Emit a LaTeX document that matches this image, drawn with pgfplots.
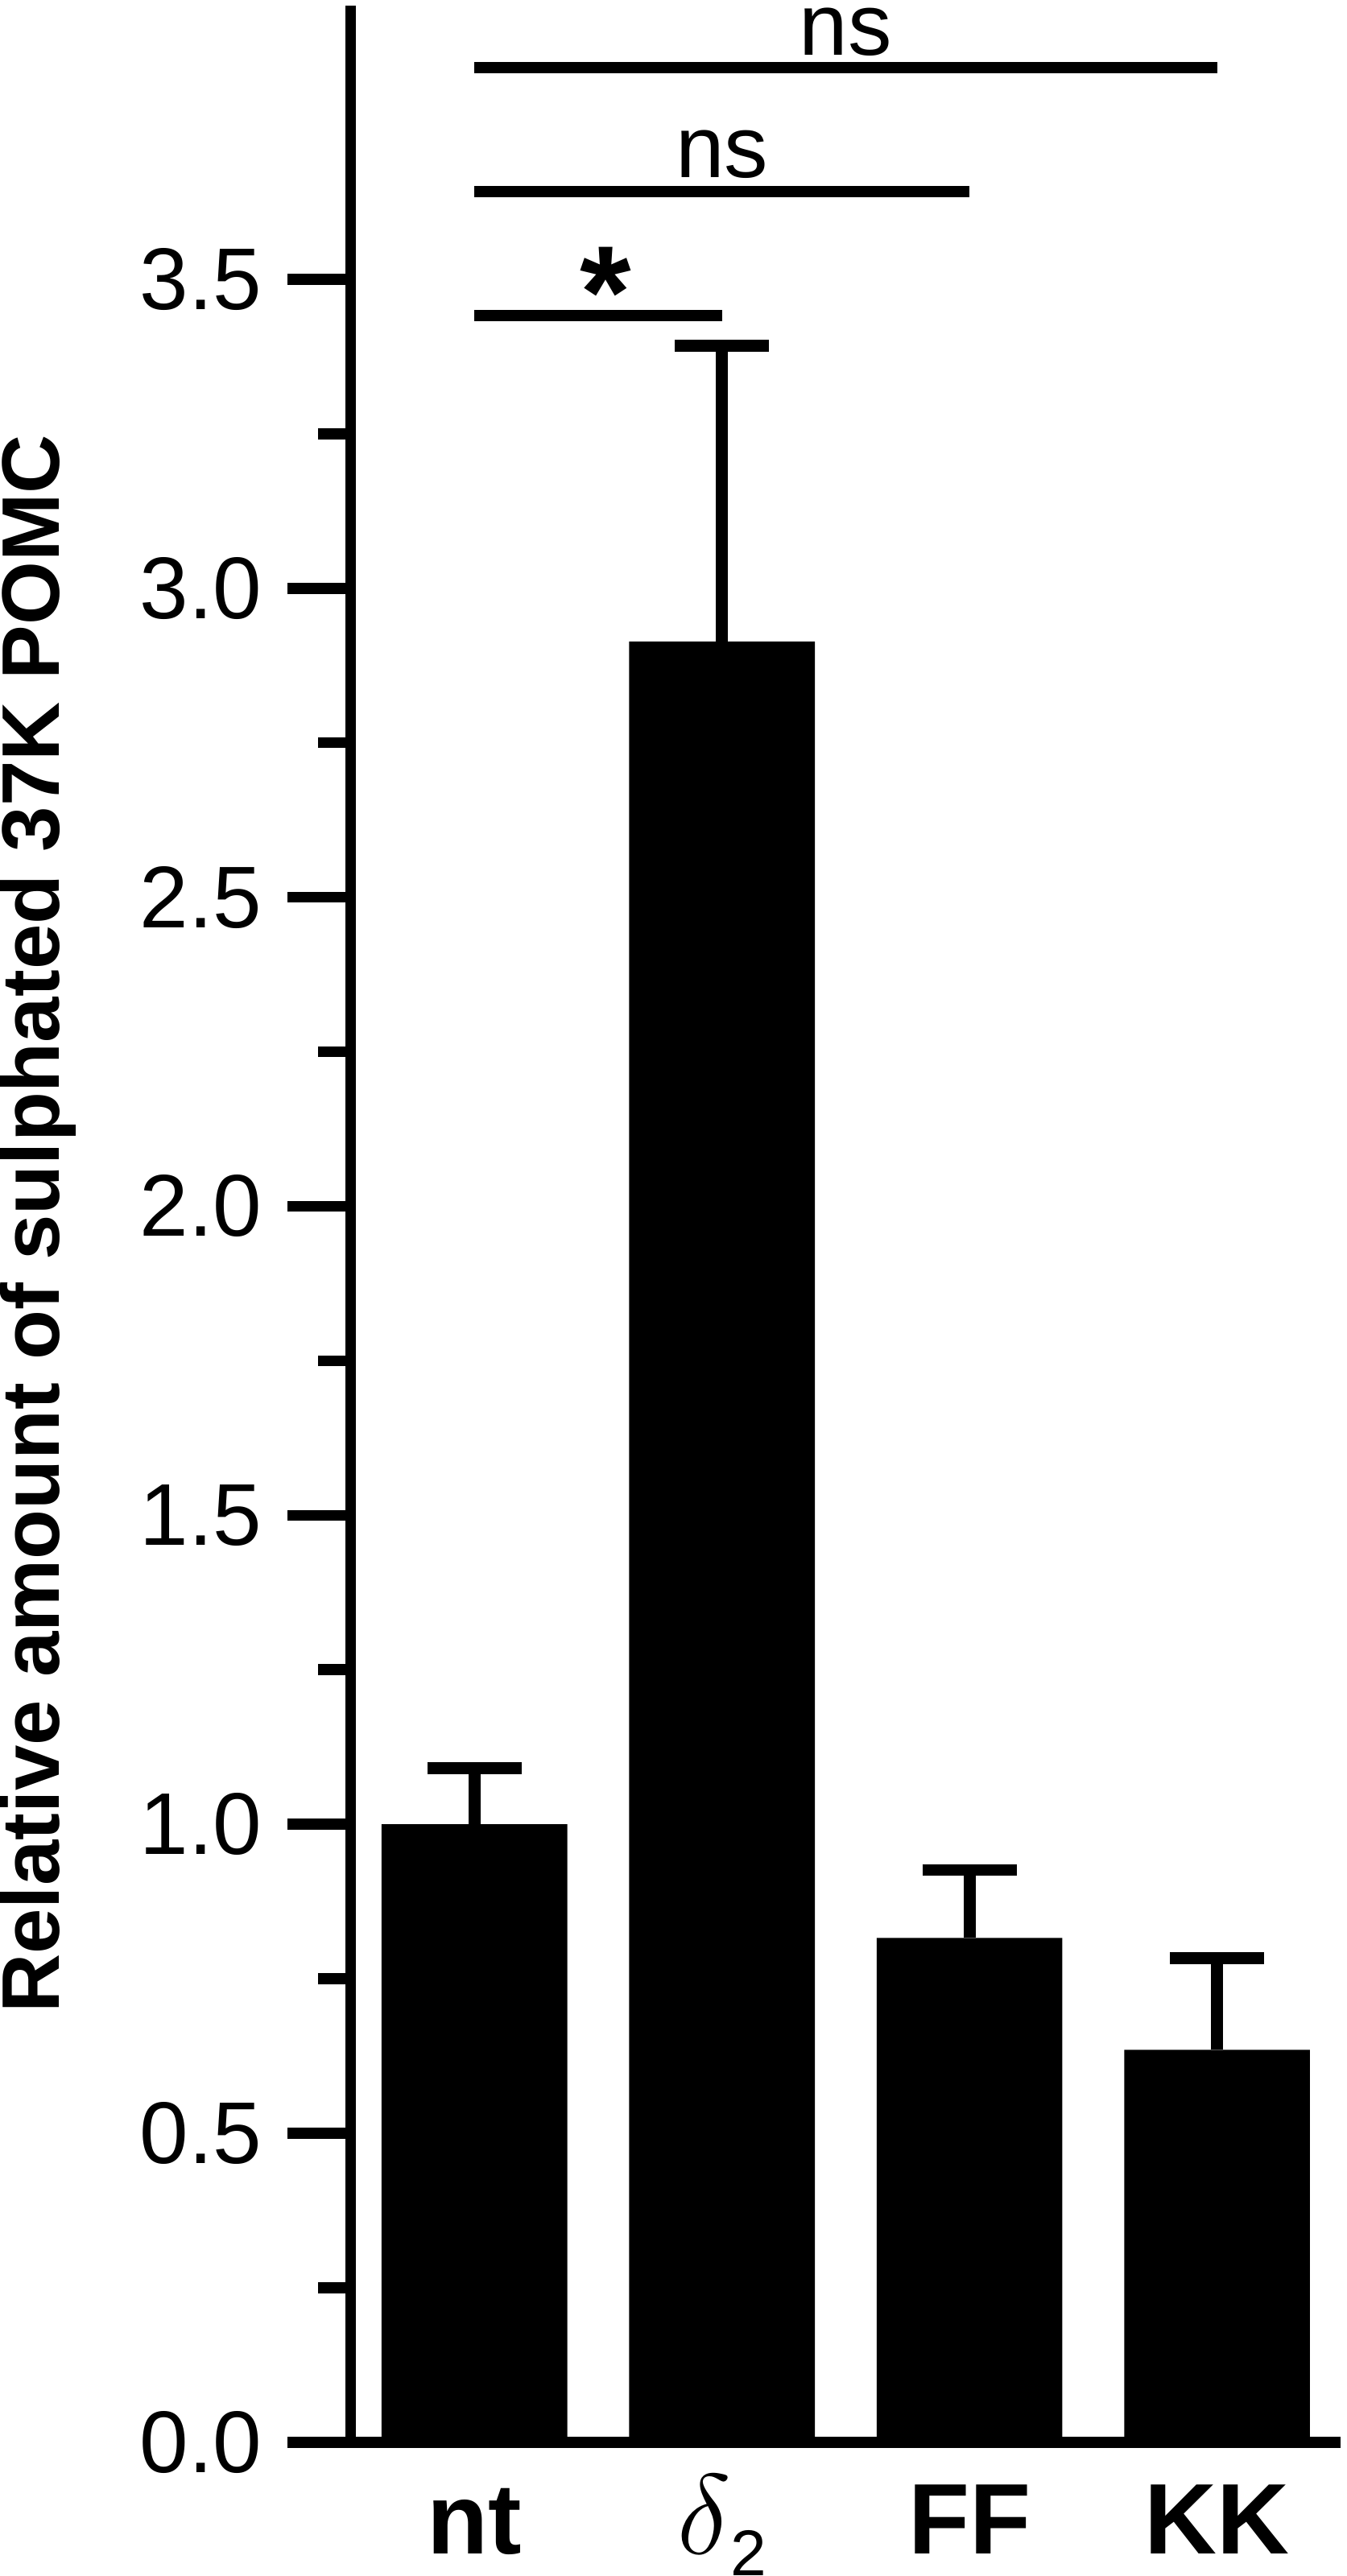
\documentclass[border=0pt]{standalone}
\usepackage{fontspec}
\setmainfont{Liberation Sans}
\usepackage{pgfplots}
\pgfplotsset{compat=1.18}
\begin{document}
\begin{tikzpicture}
\begin{axis}[
  scale only axis,
  width=180.7pt, height=444.8pt,
  xmin=-0.5, xmax=3.5, ymin=0, ymax=3.943,
  axis lines=left,
  axis line style={-, line width=2pt, black},
  xtick={0,1,2,3},
  xticklabels={\textbf{nt},{{\fontsize{20.74}{24}\selectfont$\delta$}\raisebox{-4.1pt}{\fontsize{11.8}{13}\selectfont 2}},\textbf{FF},\textbf{KK}},
  x tick style={draw=none},
  xticklabel style={anchor=base, inner sep=0pt, yshift=-8.8pt, font=\fontsize{18.3}{20}\selectfont},
  ytick={0,0.5,1,1.5,2,2.5,3,3.5},
  minor y tick num=1,
  y tick style={line width=2pt, black},
  tick align=outside,
  major tick length=11.5pt, minor tick length=5.9pt,
  /pgf/number format/assume math mode=true,
  yticklabel={\pgfmathprintnumber[fixed,fixed zerofill,precision=1]{\tick}},
  yticklabel style={anchor=east, inner sep=0pt, xshift=-4.5pt, font=\fontsize{16}{18}\selectfont},
  ylabel={\textbf{Relative amount of sulphated 37K POMC}},
  ylabel style={at={([xshift=-64.2pt]rel axis cs:0,0.5)}, anchor=north, inner sep=0pt, font=\fontsize{14.9}{16}\selectfont},
  clip=false,
]

% bars with upper error bars (mean + SEM)
\addplot[ybar, bar width=0.75, bar shift=0pt, fill=black, draw=none,
  error bars/.cd, y dir=plus, y explicit, error mark=|,
  error bar style={line width=2.2pt, black},
  error mark options={line width=2.2pt, mark size=8.6pt, black}]
coordinates {
  (0,1.000) +- (0,0.091)
  (1,2.914) +- (0,0.478)
  (2,0.816) +- (0,0.110)
  (3,0.635) +- (0,0.149)
};

% significance brackets
\addplot[line width=2pt, black, mark=none] coordinates {(0,3.441) (1,3.441)};
\addplot[line width=2pt, black, mark=none] coordinates {(0,3.642) (2,3.642)};
\addplot[line width=2pt, black, mark=none] coordinates {(0,3.842) (3,3.842)};

\node[anchor=base, inner sep=0pt, font=\fontsize{24}{26}\selectfont\bfseries] at (axis cs:0.53,3.405) {*};
\node[anchor=base, inner sep=0pt, font=\fontsize{16}{18}\selectfont] at (axis cs:1.0,3.665) {ns};
\node[anchor=base, inner sep=0pt, font=\fontsize{16}{18}\selectfont] at (axis cs:1.5,3.862) {ns};
\end{axis}
\end{tikzpicture}
\end{document}
